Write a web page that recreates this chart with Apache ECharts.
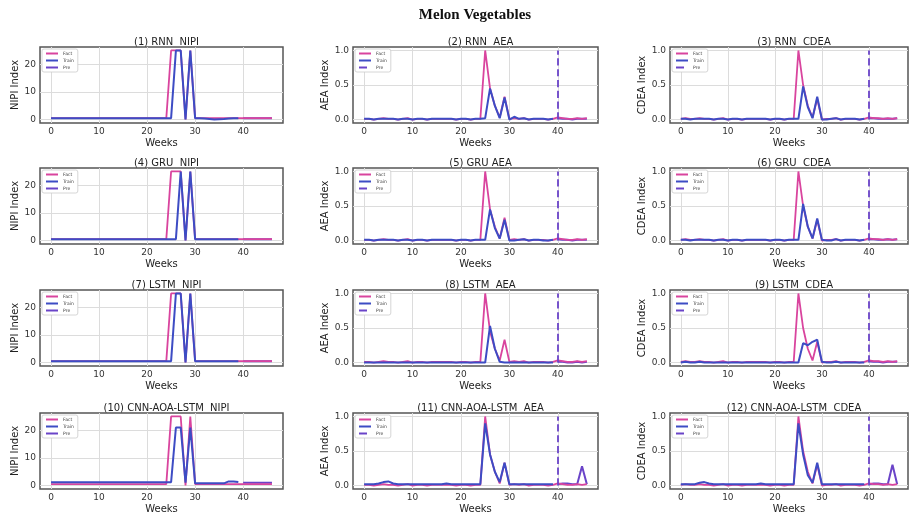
<!DOCTYPE html>
<html><head><meta charset="utf-8">
<script src="https://cdn.jsdelivr.net/npm/echarts@6/dist/echarts.min.js"></script>
<style>html,body{margin:0;padding:0;background:#fff}#c{width:912px;height:518px}</style>
</head><body><div id="c"></div>
<script>
// ---------------- DATA ----------------
const weeks = [0,1,2,3,4,5,6,7,8,9,10,11,12,13,14,15,16,17,18,19,20,21,22,23,24,25,26,27,28,29,30,31,32,33,34,35,36,37,38,39,40,41,42,43,44,45,46];
const trainWeeks = [0,1,2,3,4,5,6,7,8,9,10,11,12,13,14,15,16,17,18,19,20,21,22,23,24,25,26,27,28,29,30,31,32,33,34,35,36,37,38,39];
const preWeeks = [40,41,42,43,44,45,46];
const forecastStart = 40;

const panelTitles = ['(1) RNN  NIPI','(2) RNN  AEA','(3) RNN  CDEA','(4) GRU  NIPI','(5) GRU AEA','(6) GRU  CDEA','(7) LSTM  NIPI','(8) LSTM  AEA','(9) LSTM  CDEA','(10) CNN-AOA-LSTM  NIPI','(11) CNN-AOA-LSTM  AEA','(12) CNN-AOA-LSTM  CDEA'];
const yAxisNames = ['NIPI Index','AEA Index','CDEA Index'];
const legendNames = ['Fact','Train','Pre'];
const nipiTicks = [0,10,20];
const indexTicks = [0,0.5,1];
const weekTicks = [0,10,20,30,40];

const nipiFact = [0.5,0.5,0.5,0.5,0.5,0.5,0.5,0.5,0.5,0.5,0.5,0.5,0.5,0.5,0.5,0.5,0.5,0.5,0.5,0.5,0.5,0.5,0.5,0.5,0.5,25,25,25,0,25,0.5,0.5,0.5,0.5,0.5,0.5,0.5,0.5,0.5,0.5,0.5,0.5,0.5,0.5,0.5,0.5,0.5];
const aeaFact = [0.01,0.01,0.0,0.01,0.02,0.01,0.01,0.0,0.01,0.02,0.0,0.01,0.01,0.0,0.01,0.01,0.01,0.01,0.01,0.0,0.01,0.01,0.0,0.01,0.01,1.0,0.45,0.2,0.03,0.33,0.01,0.02,0.01,0.02,0.0,0.01,0.01,0.01,0.0,0.01,0.03,0.02,0.01,0.01,0.02,0.01,0.02];
const cdeaFact = [0.01,0.02,0.01,0.01,0.02,0.01,0.01,0.0,0.01,0.02,0.0,0.01,0.01,0.0,0.01,0.01,0.01,0.01,0.01,0.0,0.01,0.01,0.0,0.01,0.01,1.0,0.5,0.2,0.03,0.3,0.0,0.01,0.01,0.02,0.0,0.01,0.01,0.01,0.0,0.01,0.03,0.02,0.02,0.01,0.02,0.01,0.02];

const rnnNipiTrain = [0.5,0.5,0.5,0.5,0.5,0.5,0.5,0.5,0.5,0.5,0.5,0.5,0.5,0.5,0.5,0.5,0.5,0.5,0.5,0.5,0.5,0.5,0.5,0.5,0.5,0.5,25,25,0,25,0.5,0.5,0.4,0.2,0,0.1,0.2,0.4,0.5,0.5];
const rnnNipiPre = [0.5,0.5,0.5,0.5,0.5,0.5,0.5];
const gruNipiTrain = [0.5,0.5,0.5,0.5,0.5,0.5,0.5,0.5,0.5,0.5,0.5,0.5,0.5,0.5,0.5,0.5,0.5,0.5,0.5,0.5,0.5,0.5,0.5,0.5,0.5,0.5,0.5,25,0,25,0.5,0.5,0.5,0.5,0.5,0.5,0.5,0.5,0.5,0.5];
const gruNipiPre = [0.5,0.5,0.5,0.5,0.5,0.5,0.5];
const lstmNipiTrain = [0.5,0.5,0.5,0.5,0.5,0.5,0.5,0.5,0.5,0.5,0.5,0.5,0.5,0.5,0.5,0.5,0.5,0.5,0.5,0.5,0.5,0.5,0.5,0.5,0.5,0.5,25,25,0,25,0.5,0.5,0.5,0.5,0.5,0.5,0.5,0.5,0.5,0.5];
const lstmNipiPre = [0.5,0.5,0.5,0.5,0.5,0.5,0.5];
const cnnNipiTrain = [1.2,1.2,1.2,1.2,1.2,1.2,1.2,1.2,1.2,1.2,1.2,1.2,1.2,1.2,1.2,1.2,1.2,1.2,1.2,1.2,1.2,1.2,1.2,1.2,1.2,1.2,21,21,1,21,0.8,0.8,0.8,0.8,0.8,0.8,0.8,1.5,1.5,1.3];
const cnnNipiPre = [1,1,1,1,1,1,1];

const rnnAeaTrain = [0.01,0.01,0.0,0.01,0.01,0.01,0.01,0.0,0.01,0.01,0.0,0.01,0.01,0.0,0.01,0.01,0.01,0.01,0.01,0.0,0.01,0.01,0.0,0.01,0.01,0.02,0.45,0.2,0.02,0.32,0.0,0.04,0.01,0.02,0.0,0.01,0.01,0.01,0.0,0.01];
const rnnAeaPre = [0.02,0.01,0.01,0.0,0.01,0.01,0.01];
const gruAeaTrain = [0.01,0.01,0.0,0.01,0.01,0.01,0.01,0.0,0.01,0.01,0.0,0.01,0.01,0.0,0.01,0.01,0.01,0.01,0.01,0.0,0.01,0.01,0.0,0.01,0.01,0.01,0.45,0.18,0.03,0.3,0.0,0.0,0.01,0.02,0.0,0.01,0.01,0.0,0.0,0.01];
const gruAeaPre = [0.02,0.01,0.01,0.0,0.01,0.01,0.01];
const lstmAeaTrain = [0.0,0.0,0.0,0.0,0.0,0.0,0.0,0.0,0.0,0.0,0.0,0.0,0.0,0.0,0.0,0.0,0.0,0.0,0.0,0.0,0.0,0.0,0.0,0.0,0.0,0.0,0.53,0.2,0.01,0.0,0.0,0.0,0.0,0.0,0.0,0.0,0.0,0.0,0.0,0.0];
const lstmAeaPre = [0.01,0.01,0.0,0.0,0.01,0.0,0.01];
const cnnAeaTrain = [0.02,0.02,0.02,0.03,0.05,0.06,0.03,0.02,0.02,0.02,0.02,0.02,0.02,0.02,0.02,0.02,0.02,0.03,0.02,0.02,0.02,0.02,0.02,0.02,0.02,0.9,0.45,0.2,0.05,0.33,0.02,0.02,0.02,0.02,0.02,0.02,0.02,0.02,0.02,0.02];
const cnnAeaPre = [0.02,0.03,0.03,0.02,0.02,0.28,0.02];

const rnnCdeaTrain = [0.01,0.01,0.0,0.01,0.01,0.01,0.01,0.0,0.01,0.01,0.0,0.01,0.01,0.0,0.01,0.01,0.01,0.01,0.01,0.0,0.01,0.01,0.0,0.01,0.01,0.01,0.48,0.18,0.02,0.33,0.0,0.0,0.01,0.02,0.0,0.01,0.01,0.01,0.0,0.01];
const rnnCdeaPre = [0.02,0.02,0.01,0.01,0.01,0.01,0.02];
const gruCdeaTrain = [0.01,0.01,0.0,0.01,0.01,0.01,0.01,0.0,0.01,0.01,0.0,0.01,0.01,0.0,0.01,0.01,0.01,0.01,0.01,0.0,0.01,0.01,0.0,0.01,0.01,0.01,0.53,0.2,0.03,0.32,0.01,0.0,0.0,0.02,0.0,0.01,0.01,0.01,0.0,0.01];
const gruCdeaPre = [0.02,0.02,0.01,0.01,0.02,0.01,0.02];
const lstmCdeaTrain = [0.0,0.01,0.0,0.0,0.01,0.0,0.0,0.0,0.0,0.0,0.0,0.0,0.0,0.0,0.0,0.0,0.0,0.0,0.0,0.0,0.0,0.0,0.0,0.0,0.0,0.0,0.28,0.25,0.3,0.33,0.01,0.0,0.0,0.01,0.0,0.0,0.0,0.0,0.0,0.0];
const lstmCdeaPre = [0.02,0.01,0.01,0.0,0.01,0.01,0.01];
const cnnCdeaTrain = [0.02,0.02,0.02,0.02,0.04,0.05,0.03,0.02,0.02,0.02,0.02,0.02,0.02,0.02,0.02,0.02,0.02,0.03,0.02,0.02,0.02,0.02,0.02,0.02,0.02,0.9,0.45,0.15,0.04,0.33,0.02,0.02,0.02,0.02,0.02,0.02,0.02,0.02,0.02,0.02];
const cnnCdeaPre = [0.02,0.03,0.03,0.02,0.02,0.3,0.02];

// ---------------- LAYOUT / STYLE ----------------
const factColor = '#d9449e', trainColor = '#3d4cc4', preColor = '#6a44c8';
const colLeft = [40, 353, 670], colWidth = [243, 245, 238];
const rowTop = [47, 168, 290, 413], plotH = 76;
const yNameGap = [20, 19, 21];
const FONT = 'DejaVu Sans';
const gridLineColor = '#dcdcdc';

const facts = [nipiFact, aeaFact, cdeaFact];
const trains = [
  [rnnNipiTrain, rnnAeaTrain, rnnCdeaTrain],
  [gruNipiTrain, gruAeaTrain, gruCdeaTrain],
  [lstmNipiTrain, lstmAeaTrain, lstmCdeaTrain],
  [cnnNipiTrain, cnnAeaTrain, cnnCdeaTrain]];
const pres = [
  [rnnNipiPre, rnnAeaPre, rnnCdeaPre],
  [gruNipiPre, gruAeaPre, gruCdeaPre],
  [lstmNipiPre, lstmAeaPre, lstmCdeaPre],
  [cnnNipiPre, cnnAeaPre, cnnCdeaPre]];

const pair = (xs, ys) => xs.map((x, i) => [x, ys[i]]);

const grid = [], xAxis = [], yAxis = [], series = [], title = [], legend = [];
title.push({text: 'Melon Vegetables', left: 470, top: 3, textAlign: 'center',
  textStyle: {fontFamily: 'Liberation Serif', fontWeight: 'bold', fontSize: 15, color: '#111'}});

for (let r = 0; r < 4; r++) {
  for (let c = 0; c < 3; c++) {
    const k = r * 3 + c;
    const isNipi = c === 0;
    const ticks = isNipi ? nipiTicks : indexTicks;
    grid.push({left: colLeft[c], top: rowTop[r], width: colWidth[c], height: plotH,
      show: true, borderColor: '#555', borderWidth: 1.5, backgroundColor: '#fff'});
    title.push({text: panelTitles[k], left: colLeft[c] + colWidth[c] / 2, top: rowTop[r] - 15, textAlign: 'center',
      textStyle: {fontFamily: FONT, fontWeight: 'normal', fontSize: 10, color: '#222'}});
    xAxis.push({type: 'value', gridIndex: k, min: -2.3, max: 48.3,
      name: 'Weeks', nameLocation: 'middle', nameGap: 15,
      nameTextStyle: {fontFamily: FONT, fontSize: 10, color: '#222'},
      axisLine: {show: false},
      axisTick: {show: true, length: 3, lineStyle: {color: '#555'}, customValues: weekTicks},
      axisLabel: {fontFamily: FONT, fontSize: 9, color: '#333', margin: 4, customValues: weekTicks},
      splitLine: {show: false}});
    const yMin = isNipi ? -1.25 : -0.05, yMax = isNipi ? 26.25 : 1.05;
    yAxis.push({type: 'value', gridIndex: k, min: yMin, max: yMax,
      name: yAxisNames[c], nameLocation: 'middle', nameGap: yNameGap[c],
      nameTextStyle: {fontFamily: FONT, fontSize: 10, color: '#222'},
      axisLine: {show: false},
      axisTick: {show: true, length: 3, lineStyle: {color: '#555'}, customValues: ticks},
      axisLabel: {fontFamily: FONT, fontSize: 9, color: '#333', margin: 4, customValues: ticks,
        formatter: v => (isNipi ? String(v) : v.toFixed(1))},
      splitLine: {show: false}});
    // grid lines drawn through the axes' own scales
    const gridLines = weekTicks.map(w => ({xAxis: w})).concat(ticks.map(t => ({yAxis: t})));
    series.push({name: 'Fact', type: 'line', xAxisIndex: k, yAxisIndex: k, showSymbol: false, symbol: 'none',
      data: pair(weeks, facts[c]), lineStyle: {color: factColor, width: 1.8}, itemStyle: {color: factColor}, z: 3,
      markLine: {silent: true, symbol: 'none', label: {show: false}, z: 1,
        lineStyle: {color: gridLineColor, width: 1, type: 'solid'}, data: gridLines}});
    series.push({name: 'Train', type: 'line', xAxisIndex: k, yAxisIndex: k, showSymbol: false, symbol: 'none',
      data: pair(trainWeeks, trains[r][c]), lineStyle: {color: trainColor, width: 2}, itemStyle: {color: trainColor}, z: 4});
    const preSeries = {name: 'Pre', type: 'line', xAxisIndex: k, yAxisIndex: k, showSymbol: false, symbol: 'none',
      data: pair(preWeeks, pres[r][c]), lineStyle: {color: preColor, width: 2},
      itemStyle: {color: preColor}, z: 2};
    if (!isNipi) {
      preSeries.markLine = {silent: true, symbol: 'none', label: {show: false}, z: 5,
        lineStyle: {color: preColor, width: 1.8, type: 'dashed'},
        data: [[{coord: [forecastStart, indexTicks[0]]}, {coord: [forecastStart, indexTicks[2]]}]]};
    }
    series.push(preSeries);
    const legendData = legendNames.map(n => (n === 'Pre' && !isNipi) ? {name: n, lineStyle: {type: 'dashed'}} : {name: n});
    legend.push({left: colLeft[c] + 2, top: rowTop[r] + 2, orient: 'vertical', itemGap: 2,
      itemWidth: 12, itemHeight: 5, padding: [2, 4, 2, 3], borderColor: '#ccc', borderWidth: 0.8, borderRadius: 2,
      backgroundColor: '#fff', selectedMode: false,
      itemStyle: {opacity: 0},
      textStyle: {fontFamily: FONT, fontSize: 4.5, color: '#444'},
      data: legendData});
  }
}

const chart = echarts.init(document.getElementById('c'), null, {renderer: 'canvas'});
chart.setOption({animation: false, backgroundColor: '#fff', title, grid, xAxis, yAxis, series, legend});
</script></body></html>
